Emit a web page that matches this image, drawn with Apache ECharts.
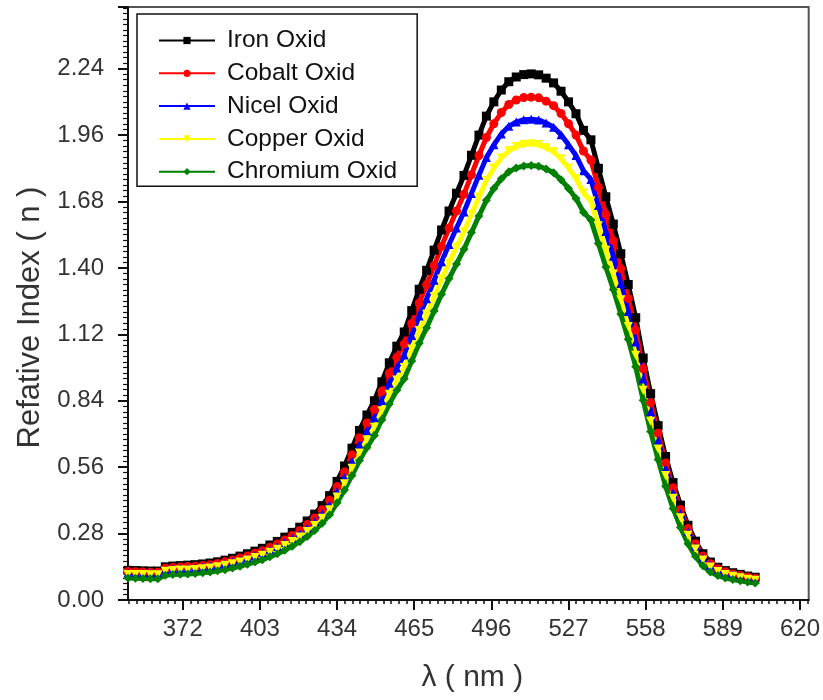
<!DOCTYPE html>
<html>
<head>
<meta charset="utf-8">
<title>Refative Index</title>
<script src="https://cdn.jsdelivr.net/npm/echarts@6/dist/echarts.min.js"></script>
<style>
  html, body { margin: 0; padding: 0; background: #fff; }
  #main { width: 823px; height: 700px; }
</style>
</head>
<body>
<div id="main"></div>
<script>
// wavelength (nm) and refractive index
var wavelength = [350,353,356,359,362,365,368,371,374,377,380,383,386,389,392,395,398,401,404,407,410,413,416,419,422,425,428,431,434,437,440,443,446,449,452,455,458,461,464,467,470,473,476,479,482,485,488,491,494,497,500,503,506,509,512,515,518,521,524,527,530,533,536,539,542,545,548,551,554,557,560,563,566,569,572,575,578,581,584,587,590,593,596,599,602];

var ironOxid = [0.125,0.124,0.123,0.122,0.122,0.140,0.143,0.145,0.147,0.149,0.152,0.156,0.161,0.168,0.176,0.185,0.195,0.206,0.218,0.232,0.247,0.265,0.285,0.307,0.333,0.362,0.398,0.440,0.500,0.565,0.640,0.715,0.780,0.840,0.920,1.000,1.070,1.130,1.220,1.310,1.390,1.475,1.560,1.640,1.715,1.790,1.875,1.960,2.040,2.100,2.150,2.185,2.205,2.215,2.218,2.214,2.200,2.180,2.145,2.100,2.050,1.980,1.940,1.820,1.700,1.585,1.460,1.330,1.190,1.020,0.870,0.735,0.605,0.495,0.400,0.315,0.248,0.195,0.160,0.138,0.124,0.115,0.108,0.101,0.096];

var cobaltOxid = [0.120,0.119,0.118,0.117,0.117,0.134,0.137,0.139,0.141,0.142,0.145,0.149,0.154,0.161,0.168,0.177,0.186,0.197,0.208,0.222,0.236,0.253,0.272,0.293,0.318,0.346,0.380,0.421,0.478,0.540,0.612,0.684,0.746,0.803,0.880,0.956,1.023,1.080,1.166,1.252,1.329,1.410,1.491,1.568,1.640,1.711,1.793,1.874,1.950,2.008,2.055,2.089,2.108,2.118,2.120,2.117,2.103,2.084,2.051,2.008,1.960,1.893,1.855,1.740,1.625,1.515,1.396,1.271,1.138,0.975,0.832,0.703,0.578,0.473,0.382,0.301,0.237,0.186,0.153,0.132,0.119,0.110,0.103,0.097,0.092];

var nicelOxid = [0.114,0.113,0.112,0.112,0.112,0.128,0.131,0.133,0.134,0.136,0.139,0.143,0.147,0.154,0.161,0.169,0.178,0.188,0.199,0.212,0.226,0.242,0.260,0.281,0.304,0.331,0.364,0.402,0.457,0.516,0.585,0.654,0.713,0.768,0.841,0.914,0.978,1.033,1.115,1.197,1.270,1.348,1.426,1.499,1.568,1.636,1.714,1.791,1.865,1.919,1.965,1.997,2.015,2.025,2.027,2.024,2.011,1.993,1.961,1.919,1.874,1.810,1.773,1.663,1.554,1.449,1.334,1.216,1.088,0.932,0.795,0.672,0.553,0.452,0.366,0.288,0.227,0.178,0.146,0.126,0.113,0.105,0.099,0.092,0.088];

var copperOxid = [0.108,0.108,0.107,0.106,0.106,0.121,0.124,0.126,0.127,0.129,0.132,0.135,0.140,0.146,0.153,0.160,0.169,0.179,0.189,0.201,0.214,0.230,0.247,0.266,0.289,0.314,0.345,0.381,0.434,0.490,0.555,0.620,0.676,0.728,0.798,0.867,0.928,0.980,1.058,1.136,1.205,1.279,1.353,1.422,1.487,1.552,1.626,1.699,1.769,1.821,1.864,1.894,1.912,1.920,1.923,1.920,1.907,1.890,1.860,1.821,1.777,1.717,1.682,1.578,1.474,1.374,1.266,1.153,1.032,0.884,0.754,0.637,0.525,0.429,0.347,0.273,0.215,0.169,0.139,0.120,0.108,0.100,0.094,0.088,0.083];

var chromiumOxid = [0.093,0.092,0.091,0.090,0.090,0.104,0.107,0.109,0.110,0.112,0.115,0.118,0.123,0.128,0.135,0.142,0.151,0.160,0.170,0.182,0.195,0.210,0.227,0.246,0.268,0.293,0.324,0.359,0.410,0.464,0.525,0.588,0.643,0.694,0.760,0.826,0.884,0.933,1.008,1.082,1.148,1.218,1.289,1.355,1.417,1.479,1.549,1.619,1.685,1.735,1.776,1.805,1.821,1.830,1.832,1.829,1.817,1.801,1.772,1.735,1.693,1.635,1.602,1.503,1.404,1.309,1.206,1.099,0.983,0.842,0.710,0.592,0.480,0.386,0.306,0.237,0.184,0.144,0.118,0.103,0.093,0.086,0.081,0.076,0.072];

var xMajorTicks = [372, 403, 434, 465, 496, 527, 558, 589, 620];

var xMinorTicks = [];
for (var k = -7; k <= 81; k++) {
  if (k % 10 !== 0) xMinorTicks.push(Math.round((372 + 3.1 * k) * 10) / 10);
}

var font = 'Liberation Sans, Arial, sans-serif';
var mychart = echarts.init(document.getElementById('main'));

function pairs(ys) {
  return wavelength.map(function (x, i) { return [x, ys[i]]; });
}

function mkSeries(name, color, symbol, ys) {
  return {
    name: name,
    type: 'line',
    data: pairs(ys),
    symbol: symbol,
    symbolSize: 9,
    showAllSymbol: true,
    itemStyle: { color: color },
    lineStyle: { color: color, width: 5 },
    animation: false
  };
}

var option = {
  backgroundColor: '#fff',
  animation: false,
  grid: {
    left: 128, top: 7, right: 10, bottom: 100,
    show: true, borderColor: '#555', borderWidth: 2, backgroundColor: '#fff'
  },
  legend: {
    orient: 'vertical',
    left: 137, top: 14,
    padding: [14, 20, 2, 21],
    itemWidth: 56, itemHeight: 9, itemGap: 7.8,
    borderColor: '#111', borderWidth: 1.5, backgroundColor: '#fff',
    textStyle: { fontFamily: font, fontSize: 24.5, color: '#111', lineHeight: 24, padding: [0, 0, 0, 7] },
    data: ['Iron Oxid', 'Cobalt Oxid', 'Nicel Oxid', 'Copper Oxid', 'Chromium Oxid']
  },
  xAxis: [{
    type: 'value', min: 350, max: 623.5, position: 'bottom',
    name: 'λ ( nm )', nameLocation: 'middle', nameGap: 63,
    nameTextStyle: { fontFamily: font, fontSize: 30, color: '#333', padding: [0, 0, 0, 8] },
    axisLine: { onZero: false, lineStyle: { color: '#111', width: 2 } },
    axisTick: { inside: false, length: 10, lineStyle: { color: '#111', width: 2 }, customValues: xMajorTicks },
    axisLabel: { customValues: xMajorTicks, margin: 17, fontFamily: font, fontSize: 24, color: '#333' },
    splitLine: { show: false }
  }, {
    type: 'value', min: 350, max: 623.5, position: 'bottom',
    axisLine: { show: false, onZero: false },
    axisTick: { inside: false, length: 4, lineStyle: { color: '#111', width: 1.5 }, customValues: xMinorTicks },
    axisLabel: { show: false },
    splitLine: { show: false }
  }],
  yAxis: [{
    type: 'value', min: 0, max: 2.5, interval: 0.28, position: 'left',
    name: 'Refative Index ( n )', nameLocation: 'middle', nameGap: 82,
    nameTextStyle: { fontFamily: font, fontSize: 31, color: '#333', padding: [0, 28, 0, 0] },
    axisLine: { onZero: false, lineStyle: { color: '#111', width: 2 } },
    axisTick: { inside: false, length: 10, lineStyle: { color: '#111', width: 2 } },
    minorTick: { show: true, splitNumber: 12, length: 5, lineStyle: { color: '#111', width: 1.2 } },
    axisLabel: {
      margin: 24, fontFamily: font, fontSize: 24, color: '#333', showMaxLabel: false,
      formatter: function (v) { return v.toFixed(2); }
    },
    splitLine: { show: false }
  }],
  series: [
    mkSeries('Iron Oxid', '#000000', 'rect', ironOxid),
    mkSeries('Cobalt Oxid', '#ff0000', 'circle', cobaltOxid),
    mkSeries('Nicel Oxid', '#0000ff', 'triangle', nicelOxid),
    mkSeries('Copper Oxid', '#ffff00', 'path://M0,0 L10,0 L5,10 Z', copperOxid),
    mkSeries('Chromium Oxid', '#008000', 'diamond', chromiumOxid)
  ]
};

mychart.setOption(option);

window.addEventListener('resize', function () {
  mychart.resize();
});
</script>
</body>
</html>
